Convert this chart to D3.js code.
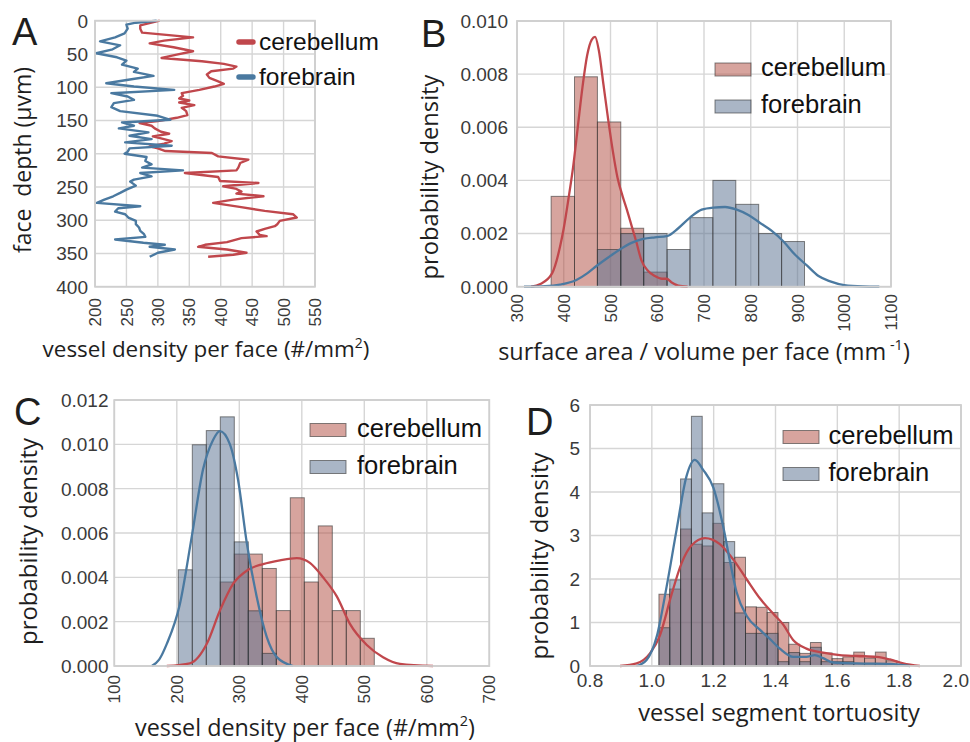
<!DOCTYPE html>
<html><head><meta charset="utf-8">
<script src="https://cdn.jsdelivr.net/npm/d3@7"></script>
<style>
body{margin:0;background:#fff}
svg{display:block}
</style></head><body>
<svg id="chart" width="970" height="742"></svg>
<script>
// ---------------- DATA ----------------
// Panel A: vessel density per face vs depth
const cerebDepthA = [0,4,7,12,18,25,30,34,40,46,51,56,61,65,69,72,76,81,86,91,95,99,104,109,113,117,120,123,127,131,136,142,146,151,154,158,162,167,170,174,177,181,185,189,192,196,199,204,209,214,221,225,229,235,241,244,249,253,257,260,264,269,274,280,286,291,296,301,306,309,313,317,322,324,327,333,337,340,344,349,352,355];
const cerebValA = [303,285,272,272,275,356,310,287,325,356,330,306,370,405,425,420,385,378,382,395,405,390,366,338,340,334,350,334,358,338,345,347,330,300,271,290,295,305,318,292,305,322,310,287,300,312,386,396,444,431,428,425,343,396,399,460,404,425,433,425,468,420,388,430,470,515,521,494,490,486,470,457,462,473,433,410,375,364,410,441,420,380];
const foreDepthA = [0,3,6,12,19,25,31,37,43,49,55,60,66,72,77,83,88,94,99,104,109,114,119,124,130,136,143,149,153,158,162,168,173,178,183,188,192,197,200,205,211,216,221,225,229,234,239,242,248,254,259,264,269,274,279,282,287,291,296,301,306,311,316,321,325,329,334,337,340,344,349,355];
const foreValA = [298,265,250,252,247,232,208,240,228,202,235,250,243,268,262,293,258,218,262,326,226,252,262,230,226,240,300,320,243,262,238,285,255,290,248,322,255,252,247,282,280,290,275,340,272,290,262,256,265,250,240,229,215,203,272,237,232,248,253,265,265,270,272,278,280,232,277,311,287,327,300,287];
const ticksAx = [200,250,300,350,400,450,500,550];
const ticksAy = [0,50,100,150,200,250,300,350,400];

// Panel B: surface area / volume per face
const edgesB = [373,423,472,522,571,621,670,719,768,817,866,915];
const cerebHistB = [0.0034,0.0079,0.0062,0.0022,0.00055,null,null,null,null,null,null];
const foreHistB = [null,null,0.0014,0.0020,0.0020,0.0014,0.0026,0.0040,0.0031,0.0020,0.0017];
const cerebKdeXB = [330,350,375,392,400,410,420,430,440,450,460,467,475,485,495,505,515,526,535,545,555,566,580,595,610,620,630,645,665];
const cerebKdeYB = [0,0.0001,0.0005,0.0015,0.0022,0.0033,0.0045,0.006,0.0075,0.0087,0.0093,0.0094,0.0089,0.0076,0.0063,0.0051,0.0041,0.0034,0.0029,0.0023,0.0017,0.001,0.0006,0.0004,0.0003,0.0003,0.00017,0.00004,0];
const foreKdeXB = [315,360,392,427,450,470,495,520,545,570,595,620,645,670,695,720,745,770,795,820,845,870,895,920,945,970,1000,1040,1075];
const foreKdeYB = [0,0.00002,0.00008,0.00025,0.0005,0.00078,0.0011,0.0014,0.00165,0.0018,0.00186,0.0019,0.0022,0.0026,0.0029,0.00298,0.003,0.0029,0.0027,0.0024,0.0021,0.0017,0.0012,0.0008,0.0004,0.0002,0.00006,0.00001,0];
const ticksBx = [300,400,500,600,700,800,900,1000,1100];
const ticksBy = [0,0.002,0.004,0.006,0.008,0.010];

// Panel C: vessel density per face (histograms)
const edgesC = [202.4,224.8,247.2,269.6,292,314.4,336.8,359.2,381.6,404,426.4,448.8,471.2,493.6,516];
const foreHistC = [0.00434,0.00998,0.01062,0.01124,0.0056,0.00249,0.00057,null,null,null,null,null,null,null];
const cerebHistC = [null,null,null,0.00379,0.00505,0.00505,0.0044,0.0025,0.00759,0.00379,0.00632,0.0025,0.0025,0.00125];
const cerebKdeXC = [184,221,248,269,290,314,338,365,392,413,434,456,477,504,530,557,610];
const cerebKdeYC = [0,0.00012,0.001,0.0025,0.0037,0.00434,0.0046,0.00477,0.00487,0.00465,0.004,0.00314,0.0019,0.00095,0.0004,0.0001,0];
const foreKdeXC = [160,172,184,205,224,242,258,269,285,298,312,328,344,360,386];
const foreKdeYC = [0,0.0003,0.001,0.0028,0.00585,0.00887,0.0102,0.0106,0.01,0.0084,0.00555,0.0031,0.0013,0.0004,0];
const ticksCx = [100,200,300,400,500,600,700];
const ticksCy = [0,0.002,0.004,0.006,0.008,0.010,0.012];

// Panel D: vessel segment tortuosity
const edgesD = [1.023,1.058,1.093,1.128,1.163,1.198,1.233,1.268,1.303,1.338,1.373,1.408,1.443,1.478,1.513,1.548,1.583,1.618,1.653,1.688,1.723,1.758,1.793,1.828];
const cerebHistD = [1.65,1.77,3.15,2.8,2.76,3.28,2.38,2.5,1.36,1.35,1.23,1.0,0.5,0.29,0.54,0.3,0.17,0.21,0.32,0.18,0.32,0.12,0.04];
const foreHistD = [0.88,1.98,4.3,5.74,3.52,4.19,2.86,1.22,0.75,0.75,0.75,0.1,0.31,0.1,0.43,0.1,0.1,0.1,0.06,0.06,0.06,null,null];
const cerebKdeXD = [0.897,0.951,0.994,1.026,1.062,1.096,1.128,1.172,1.22,1.263,1.306,1.35,1.393,1.425,1.457,1.5,1.554,1.608,1.662,1.727,1.77,1.813,1.867];
const cerebKdeYD = [0,0.06,0.29,0.7,1.6,2.36,2.77,2.94,2.8,2.45,2.0,1.55,1.2,0.95,0.6,0.4,0.31,0.25,0.23,0.21,0.15,0.06,0];
const foreKdeXD = [0.95,0.983,1.016,1.048,1.08,1.112,1.139,1.166,1.199,1.231,1.253,1.274,1.307,1.35,1.382,1.414,1.457,1.5,1.527,1.554,1.587,1.662,1.77,1.835];
const foreKdeYD = [0,0.14,0.68,1.83,3.13,4.36,4.74,4.51,4.1,3.2,2.4,1.7,1.15,0.83,0.62,0.4,0.21,0.21,0.25,0.18,0.08,0.06,0.05,0];
const ticksDx = [0.8,1.0,1.2,1.4,1.6,1.8,2.0];
const ticksDy = [0,1,2,3,4,5,6];

// ---------------- STYLE ----------------
const TICK_FONT = "'Liberation Sans', Arial, Helvetica, sans-serif";
const TITLE_FONT = "'Open Sans', 'Noto Sans', sans-serif";
const TICK_COLOR = "#3a3a3a";
const TITLE_COLOR = "#1e1e1e";
const GRID = "#d6d6d6";
const RED_LINE = "#c0474c";
const BLUE_LINE = "#4a79a0";
const RED_FILL = "#b0493e";
const BLUE_FILL = "#556e8d";

const svg = d3.select("#chart");

function frame(g, x, y, xt, yt) {
  const [x0, x1] = d3.extent(x.range());
  const [y0, y1] = d3.extent(y.range());
  g.append("g").selectAll("line").data(xt).join("line")
    .attr("x1", d => x(d)).attr("x2", d => x(d)).attr("y1", y0).attr("y2", y1)
    .attr("stroke", GRID).attr("stroke-width", 1.4);
  g.append("g").selectAll("line").data(yt).join("line")
    .attr("y1", d => y(d)).attr("y2", d => y(d)).attr("x1", x0).attr("x2", x1)
    .attr("stroke", GRID).attr("stroke-width", 1.4);
}
function border(g, x, y) {
  const [x0, x1] = d3.extent(x.range());
  const [y0, y1] = d3.extent(y.range());
  g.append("rect").attr("x", x0).attr("y", y0).attr("width", x1 - x0).attr("height", y1 - y0)
    .attr("fill", "none").attr("stroke", "#cfcfcf").attr("stroke-width", 1.8);
}
function yTickLabels(g, y, ticks, xRight, fmt, size) {
  g.append("g").selectAll("text").data(ticks).join("text")
    .attr("x", xRight).attr("y", d => y(d)).attr("dy", "0.36em")
    .attr("text-anchor", "end").attr("font-family", TICK_FONT).attr("font-size", size)
    .attr("fill", TICK_COLOR).text(fmt);
}
function xTickLabelsRot(g, x, ticks, yTop, fmt, size) {
  g.append("g").selectAll("text").data(ticks).join("text")
    .attr("transform", d => `translate(${x(d)},${yTop}) rotate(-90)`)
    .attr("dy", "0.36em").attr("text-anchor", "end")
    .attr("font-family", TICK_FONT).attr("font-size", size)
    .attr("fill", TICK_COLOR).text(fmt);
}
function richText(parent, parts, o) {
  const t = parent.append("text").attr("font-family", o.family).attr("fill", o.fill)
    .attr("text-anchor", o.anchor || "middle").attr("font-size", o.size).style("white-space", "pre");
  if (o.rotate) t.attr("transform", `translate(${o.x},${o.y}) rotate(${o.rotate})`);
  else t.attr("x", o.x).attr("y", o.y);
  parts.forEach(p => {
    const s = t.append("tspan").text(p.t);
    if (p.sup) s.attr("font-size", "62%").attr("data-sup", "1");
  });
  let fs = o.size;
  if (o.target) {
    const w = t.node().getComputedTextLength();
    fs = o.size * o.target / w;
    t.attr("font-size", fs);
  }
  let shifted = false;
  t.selectAll("tspan").each(function () {
    const s = d3.select(this);
    if (s.attr("data-sup")) { s.attr("dy", -0.42 * fs); shifted = true; }
    else if (shifted) { s.attr("dy", 0.42 * fs); shifted = false; }
  });
  return t;
}
function letter(txt, x, y) {
  svg.append("text").attr("x", x).attr("y", y).attr("font-family", TICK_FONT)
    .attr("font-size", 38).attr("fill", "#1e1e1e").text(txt);
}
function bars(g, x, y, edges, vals, fill) {
  const d = vals.map((v, i) => ({ x0: edges[i], x1: edges[i + 1], v })).filter(b => b.v != null);
  g.append("g").selectAll("rect").data(d).join("rect")
    .attr("x", b => x(b.x0)).attr("width", b => x(b.x1) - x(b.x0))
    .attr("y", b => y(b.v)).attr("height", b => y(0) - y(b.v))
    .attr("fill", fill).attr("fill-opacity", 0.5)
    .attr("stroke", "#333").attr("stroke-opacity", 0.6).attr("stroke-width", 1);
}
function kde(g, x, y, xs, ys, color) {
  const pts = xs.map((v, i) => [v, ys[i]]);
  g.append("path").datum(pts)
    .attr("d", d3.line().x(p => x(p[0])).y(p => y(p[1])).curve(d3.curveMonotoneX))
    .attr("fill", "none").attr("stroke", color).attr("stroke-width", 2.3);
}
function legendBox(g, xSw, xTxt, ySw1, yTxt1, ySw2, yTxt2) {
  const items = [
    { name: "cerebellum", fill: RED_FILL, ys: ySw1, yt: yTxt1 },
    { name: "forebrain", fill: BLUE_FILL, ys: ySw2, yt: yTxt2 }
  ];
  items.forEach(it => {
    g.append("rect").attr("x", xSw).attr("y", it.ys).attr("width", 36).attr("height", 13)
      .attr("fill", it.fill).attr("fill-opacity", 0.5)
      .attr("stroke", "#333").attr("stroke-opacity", 0.6).attr("stroke-width", 1);
    const t = g.append("text").attr("x", xTxt).attr("y", it.yt).attr("font-family", TICK_FONT)
      .attr("font-size", 25).attr("fill", "#111").text(it.name);
    if (it.name === "cerebellum") {
      const w = t.node().getComputedTextLength();
      g.attr("data-fs", 25 * 125 / w);
    }
  });
  const fs = +g.attr("data-fs");
  g.selectAll("text").attr("font-size", fs);
}

// ---------------- PANEL A ----------------
{
  const g = svg.append("g");
  const x = d3.scaleLinear([200, 550], [95, 315]);
  const y = d3.scaleLinear([0, 400], [20.7, 286.7]);
  frame(g, x, y, ticksAx, ticksAy);
  const line = d3.line().x(d => x(d[1])).y(d => y(d[0]));
  g.append("path").datum(cerebDepthA.map((d, i) => [d, cerebValA[i]]))
    .attr("d", line).attr("fill", "none").attr("stroke", RED_LINE).attr("stroke-width", 2.4)
    .attr("stroke-linejoin", "round");
  g.append("path").datum(foreDepthA.map((d, i) => [d, foreValA[i]]))
    .attr("d", line).attr("fill", "none").attr("stroke", BLUE_LINE).attr("stroke-width", 2.4)
    .attr("stroke-linejoin", "round");
  border(g, x, y);
  yTickLabels(g, y, ticksAy, 88, d => d, 19);
  xTickLabelsRot(g, x, ticksAx, 298, d => d, 17);
  // legend
  const lg = g.append("g");
  [["cerebellum", RED_LINE, 42, 50], ["forebrain", BLUE_LINE, 77, 85]].forEach(([n, c, ly, ty]) => {
    lg.append("line").attr("x1", 239).attr("x2", 253).attr("y1", ly).attr("y2", ly)
      .attr("stroke", c).attr("stroke-width", 5.5).attr("stroke-linecap", "round");
    lg.append("text").attr("x", 259).attr("y", ty).attr("font-family", TICK_FONT)
      .attr("font-size", 24.5).attr("fill", "#111").text(n);
  });
  richText(g, [{ t: "vessel density per face (#/mm" }, { t: "2", sup: true }, { t: ")" }],
    { x: 206, y: 357, size: 20, family: TITLE_FONT, fill: TITLE_COLOR, target: 327 });
  richText(g, [{ t: "face  depth (\u00b5vm)" }],
    { x: 31, y: 160, rotate: -90, size: 22, family: TITLE_FONT, fill: TITLE_COLOR, target: 186 });
  letter("A", 12, 45);
}

// ---------------- PANEL B ----------------
{
  const g = svg.append("g");
  const x = d3.scaleLinear([300, 1100], [517, 891]);
  const y = d3.scaleLinear([0, 0.010], [286.7, 21]);
  frame(g, x, y, ticksBx, ticksBy);
  bars(g, x, y, edgesB, cerebHistB, RED_FILL);
  bars(g, x, y, edgesB, foreHistB, BLUE_FILL);
  kde(g, x, y, cerebKdeXB, cerebKdeYB, RED_LINE);
  kde(g, x, y, foreKdeXB, foreKdeYB, BLUE_LINE);
  border(g, x, y);
  yTickLabels(g, y, ticksBy, 508, d3.format(".3f"), 19);
  xTickLabelsRot(g, x, ticksBx, 294, d => d, 17);
  legendBox(g.append("g"), 715, 761, 63, 76, 100, 113);
  richText(g, [{ t: "surface area / volume per face (mm" }, { t: " -1", sup: true }, { t: ")" }],
    { x: 704, y: 360, size: 20, family: TITLE_FONT, fill: TITLE_COLOR, target: 412 });
  richText(g, [{ t: "probability density" }],
    { x: 438, y: 177, rotate: -90, size: 20, family: TITLE_FONT, fill: TITLE_COLOR, target: 205 });
  letter("B", 421, 47);
}

// ---------------- PANEL C ----------------
{
  const g = svg.append("g");
  const x = d3.scaleLinear([100, 700], [114.3, 489.3]);
  const y = d3.scaleLinear([0, 0.012], [666, 400]);
  frame(g, x, y, ticksCx, ticksCy);
  bars(g, x, y, edgesC, cerebHistC, RED_FILL);
  bars(g, x, y, edgesC, foreHistC, BLUE_FILL);
  kde(g, x, y, cerebKdeXC, cerebKdeYC, RED_LINE);
  kde(g, x, y, foreKdeXC, foreKdeYC, BLUE_LINE);
  border(g, x, y);
  yTickLabels(g, y, ticksCy, 108.5, d3.format(".3f"), 19);
  xTickLabelsRot(g, x, ticksCx, 675, d => d, 17);
  legendBox(g.append("g"), 310, 357, 423.5, 437, 460.5, 474);
  richText(g, [{ t: "vessel density per face (#/mm" }, { t: "2", sup: true }, { t: ")" }],
    { x: 305, y: 736, size: 21, family: TITLE_FONT, fill: TITLE_COLOR, target: 340 });
  richText(g, [{ t: "probability density" }],
    { x: 37, y: 541.5, rotate: -90, size: 20, family: TITLE_FONT, fill: TITLE_COLOR, target: 207 });
  letter("C", 14, 425);
}

// ---------------- PANEL D ----------------
{
  const g = svg.append("g");
  const x = d3.scaleLinear([0.8, 2.0], [590, 961]);
  const y = d3.scaleLinear([0, 6], [666, 405]);
  frame(g, x, y, ticksDx, ticksDy);
  bars(g, x, y, edgesD, cerebHistD, RED_FILL);
  bars(g, x, y, edgesD, foreHistD, BLUE_FILL);
  kde(g, x, y, cerebKdeXD, cerebKdeYD, RED_LINE);
  kde(g, x, y, foreKdeXD, foreKdeYD, BLUE_LINE);
  border(g, x, y);
  yTickLabels(g, y, ticksDy, 580, d => d, 19);
  const last = ticksDx[ticksDx.length - 1];
  g.append("g").selectAll("text").data(ticksDx).join("text")
    .attr("x", d => d === last ? 969 : x(d)).attr("y", 687)
    .attr("text-anchor", d => d === last ? "end" : "middle")
    .attr("font-family", TICK_FONT).attr("font-size", 19).attr("fill", TICK_COLOR)
    .text(d3.format(".1f"));
  legendBox(g.append("g"), 783, 828.5, 430.5, 443.5, 467.5, 480.5);
  richText(g, [{ t: "vessel segment tortuosity" }],
    { x: 779, y: 721, size: 21, family: TITLE_FONT, fill: TITLE_COLOR, target: 282 });
  richText(g, [{ t: "probability density" }],
    { x: 548, y: 556, rotate: -90, size: 20, family: TITLE_FONT, fill: TITLE_COLOR, target: 207 });
  letter("D", 526, 435);
}
</script>
</body></html>
